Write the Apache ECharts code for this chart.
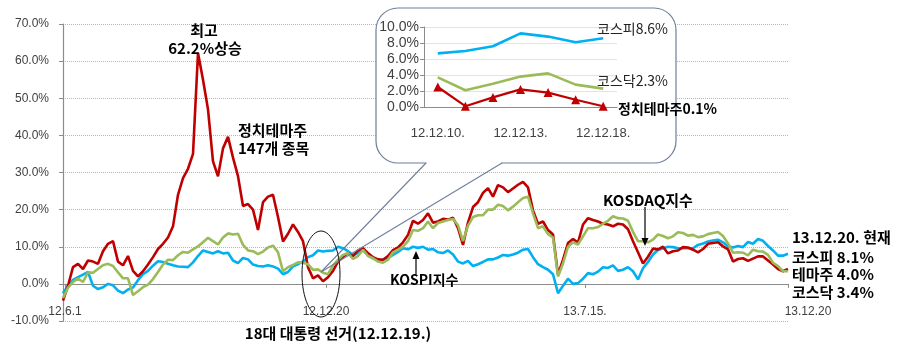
<!DOCTYPE html>
<html><head><meta charset="utf-8">
<script src="https://cdn.jsdelivr.net/npm/echarts@6/dist/echarts.min.js"></script>
<style>html,body{margin:0;padding:0;background:#fff}#c{width:903px;height:355px}</style>
</head><body><div id="c"></div>
<script>
// ---- data (percent change since 12.6.1) ----
const themeStocks = [-4.5,-0.5,4.5,5.4,4.0,6.3,6.0,5.4,8.8,10.8,11.5,6.0,5.0,7.5,3.5,2.0,3.4,5.2,7.2,9.4,
 10.8,12.5,15.5,24,28.5,31,35,62.2,55,47,33,29,36.5,39.6,34,29,21,21.5,20,14.5,
 22,23.5,24,18,11.4,13.5,16,14,11.5,4.5,1.5,2.3,0.7,1.8,3.5,6,7.3,8.3,7.5,9,
 9.6,8.3,7.2,6.6,6.5,7.5,9.1,9.8,11.2,13.2,17,16.2,17.2,19,16.5,16.8,17.5,17.3,17.8,15,
 10.5,16.5,20.7,22,24.5,25.8,23.5,26.6,26,24.7,25.7,26.7,27.5,26,19.8,16.2,16.8,14.5,13.3,2.5,
 6.5,11,12.1,11.1,16,17.7,17.2,16.8,16.2,16,15.5,16.2,16,14.7,11.5,8.5,5.5,7.3,9.5,9.3,
 10,8.2,8.8,9,9.9,9.8,9.2,8.5,9.4,10.8,11,11.2,10.1,9.3,6,6.7,6.9,6.2,6.8,7.4,
 7.4,6.3,5.2,4.0,3.4,4.0];
const kosdaq = [-3.8,-1.0,0.5,1.4,0.5,3.1,3.0,4.0,5.0,5.4,4.8,3.1,1.5,1.5,-3.0,-2.0,-0.9,-0.2,1.3,3.2,
 5.2,6.5,6.4,7.7,8.6,8.4,9.3,10.1,11.2,12.4,11.5,10.6,12.5,13.6,13.3,13.5,10.5,9,8.8,8.0,
 8.7,9.8,10.3,8.5,3.4,4.5,5.1,5.8,5.7,5.3,3.8,3.9,3.0,2.6,5.0,6.5,7.8,8.3,6.7,7.5,
 9.2,7.5,6.9,6.0,5.7,6.5,8.5,9.2,10,11.5,14.5,14.3,15,16.8,15,16.4,16.8,17.2,17.5,15.8,
 11.5,15.7,18,18.5,18.5,20,20,21.3,21,19.8,20.8,22,23.1,23.5,19,15,15.5,13.4,12.5,2.0,
 5.5,10,11.2,10.6,12.8,15,15,15.3,16.2,17,18.2,17.7,17.6,17,14,11.5,11.5,11.2,11.9,13.3,
 12.9,12.3,12.8,13.9,13.7,13,13.2,12.6,12.8,13.4,13.7,14,12.9,10.9,8.4,8.5,8.4,7.7,9.2,8.8,
 8.7,7.8,5.7,4.8,3.4,3.4];
const kospi = [-2.5,-0.5,1.1,1.8,2.5,3.2,-0.5,-1.4,-0.9,0,-0.4,-1.8,-2.5,-1.5,-1.0,1.0,2.6,3.5,4.9,6.1,
 5.9,5.4,5.0,4.7,4.6,4.5,5.8,7.5,9.0,8.6,8.2,8.8,8.2,8.4,6.3,5.6,7.0,6.6,5.2,4.8,
 4.7,5.0,4.7,4.1,2.6,3.2,4.7,5.3,6.0,7.2,7.7,9.0,8.7,8.9,9.0,10.0,9.6,8.8,7.8,8.3,
 9.1,7.7,6.9,6.4,6.5,7.0,7.8,8.6,9.6,9.3,10,9.7,10,9.2,9.4,8.5,8.3,9.0,7.9,6.0,
 5.5,6.2,4.8,5.3,5.9,6.6,6.6,7.1,7.8,7.6,7.9,8.4,9.2,9.4,7.2,5.3,4.5,3.8,2.6,-2.5,
 -0.5,1.4,0.0,0.2,1.4,2.9,2.6,3.3,4.5,4.3,5.0,3.5,3.8,4.5,3.4,1.2,4.2,5.9,7.9,9.1,
 9.6,10,9.9,9.6,9.6,9.6,9.6,10.5,10.9,11.4,11.7,11.9,11.2,10.1,9.8,10.2,9.9,11.3,10.8,12.1,
 11.6,10.2,9.0,7.6,7.6,8.1];
const xTickLabels = ['12.6.1', '12.12.20', '13.7.15.', '13.12.20'];
const xTickPos = [0.4, 52.6, 104.4, 145];

// inset (12.12.10 ~ 12.12.18)
const insetDates = ['12.12.10.', '12.12.11.', '12.12.12.', '12.12.13.', '12.12.14.', '12.12.17.', '12.12.18.'];
const insetKospi = [6.7, 7.0, 7.6, 9.2, 8.8, 8.1, 8.6];
const insetKosdaq = [3.7, 2.1, 2.9, 3.8, 4.2, 2.8, 2.3];
const insetTheme = [2.5, 0.1, 1.2, 2.2, 1.8, 0.9, 0.1];

// ---- chart ----
const RED = '#C00000', GREEN = '#9BBB59', BLUE = '#00B0F0';
const NUMFONT = "'Liberation Sans', 'Noto Sans CJK KR', sans-serif";
const KFONT = "'Noto Sans CJK KR', 'Liberation Sans', sans-serif";
const pairs = a => a.map((v, i) => [i, v]);

function txt(text, x, y, opt) {
  opt = opt || {};
  return {
    type: 'text', x: x, y: y, z: 30, silent: true,
    style: {
      text: text, fill: opt.color || '#000',
      fontSize: opt.size || 15, fontWeight: opt.weight || 'bold',
      fontFamily: opt.family || KFONT,
      align: opt.align || 'left', textAlign: opt.align || 'left',
      verticalAlign: 'middle', textVerticalAlign: 'middle'
    }
  };
}
function arrow(x, y1, y2) {
  const dir = y2 > y1 ? 1 : -1;
  return [
    { type: 'line', z: 30, silent: true, shape: { x1: x, y1: y1, x2: x, y2: y2 - dir * 5 }, style: { stroke: '#000', lineWidth: 1.2 } },
    { type: 'polygon', z: 30, silent: true, shape: { points: [[x, y2], [x - 3.5, y2 - dir * 8], [x + 3.5, y2 - dir * 8]] }, style: { fill: '#000' } }
  ];
}

const chart = echarts.init(document.getElementById('c'));
chart.setOption({
  animation: false,
  backgroundColor: '#fff',
  grid: [
    { left: 63, right: 115, top: 24, bottom: 34, outerBoundsMode: 'none' },
    { left: 424, top: 27, width: 193, height: 80, outerBoundsMode: 'none' }
  ],
  xAxis: [
    {
      type: 'value', gridIndex: 0, min: 0, max: themeStocks.length - 1,
      axisLine: { onZero: true, lineStyle: { color: '#8c8c8c', width: 1.2 } },
      axisTick: { show: true, customValues: xTickPos, length: 4, lineStyle: { color: '#8c8c8c' } },
      axisLabel: {
        customValues: xTickPos, margin: -15, fontSize: 12, color: '#404040', fontFamily: NUMFONT,
        formatter: function (v) {
          const k = xTickPos.indexOf(v);
          if (k < 0) return '';
          return k === xTickPos.length - 1 ? '{e|' + xTickLabels[k] + '}' : xTickLabels[k];
        },
        rich: { e: { padding: [0, 0, 0, 40], fontSize: 12, color: '#404040', fontFamily: NUMFONT } }
      },
      splitLine: { show: false }
    },
    {
      type: 'category', gridIndex: 1, data: insetDates, boundaryGap: true, z: 10,
      axisLine: { lineStyle: { color: '#8c8c8c' } },
      axisTick: { interval: 2, length: 4, lineStyle: { color: '#8c8c8c' } },
      axisLabel: { interval: 2, margin: 20, fontSize: 13, color: '#404040', fontFamily: NUMFONT },
      splitLine: { show: false }
    }
  ],
  yAxis: [
    {
      type: 'value', gridIndex: 0, min: -10, max: 70, interval: 10,
      axisLine: { show: true, lineStyle: { color: '#8c8c8c', width: 1.2 } },
      axisTick: { show: true, length: 4, lineStyle: { color: '#8c8c8c' } },
      axisLabel: { margin: 14, fontSize: 12, color: '#404040', fontFamily: NUMFONT, formatter: v => v.toFixed(1) + '%' },
      splitLine: { lineStyle: { type: 'dotted', color: '#a9b8cf', width: 1 } }
    },
    {
      type: 'value', gridIndex: 1, min: 0, max: 10, interval: 2, z: 10,
      axisLine: { show: true, lineStyle: { color: '#8c8c8c' } },
      axisTick: { show: true, length: 4, lineStyle: { color: '#8c8c8c' } },
      axisLabel: { margin: 5, fontSize: 14, color: '#404040', fontFamily: NUMFONT, formatter: v => v.toFixed(1) + '%' },
      splitLine: { lineStyle: { color: '#dfe4ea', width: 1 } }
    }
  ],
  series: [
    { name: 'KOSPI', type: 'line', xAxisIndex: 0, yAxisIndex: 0, data: pairs(kospi), showSymbol: false, symbol: 'none', lineStyle: { color: BLUE, width: 2.6 }, itemStyle: { color: BLUE }, z: 2 },
    { name: '정치테마주', type: 'line', xAxisIndex: 0, yAxisIndex: 0, data: pairs(themeStocks), showSymbol: false, symbol: 'none', lineStyle: { color: RED, width: 2.6 }, itemStyle: { color: RED }, z: 3 },
    { name: 'KOSDAQ', type: 'line', xAxisIndex: 0, yAxisIndex: 0, data: pairs(kosdaq), showSymbol: false, symbol: 'none', lineStyle: { color: GREEN, width: 2.6 }, itemStyle: { color: GREEN }, z: 4 },
    { name: '코스피', type: 'line', xAxisIndex: 1, yAxisIndex: 1, data: insetKospi, symbol: 'none', lineStyle: { color: BLUE, width: 2.6 }, z: 12 },
    { name: '코스닥', type: 'line', xAxisIndex: 1, yAxisIndex: 1, data: insetKosdaq, symbol: 'none', lineStyle: { color: GREEN, width: 2.6 }, z: 12 },
    { name: '정치테마주(인셋)', type: 'line', xAxisIndex: 1, yAxisIndex: 1, data: insetTheme, symbol: 'triangle', symbolSize: 9, lineStyle: { color: RED, width: 2.2 }, itemStyle: { color: RED }, z: 13 }
  ],
  graphic: {
    elements: [
      // callout box
      { type: 'rect', z: 5, silent: true, shape: { x: 376, y: 8, width: 300, height: 155, r: 22 }, style: { fill: '#fff', stroke: '#6f7f9c', lineWidth: 1.2 } },
      { type: 'line', z: 6, silent: true, shape: { x1: 426.5, y1: 163, x2: 501, y2: 163 }, style: { stroke: '#fff', lineWidth: 3 } },
      { type: 'line', z: 6, silent: true, shape: { x1: 426, y1: 163, x2: 321, y2: 272 }, style: { stroke: '#6f7f9c', lineWidth: 1.1 } },
      { type: 'line', z: 6, silent: true, shape: { x1: 502, y1: 163, x2: 321, y2: 272 }, style: { stroke: '#6f7f9c', lineWidth: 1.1 } },
      // ellipse around election day
      { type: 'ellipse', z: 30, silent: true, shape: { cx: 321, cy: 274, rx: 19, ry: 43 }, style: { fill: null, stroke: '#111', lineWidth: 1 } },
      // annotations
      txt('최고', 204, 30, { align: 'center' }),
      txt('62.2%상승', 205, 48, { align: 'center' }),
      txt('정치테마주', 238, 130),
      txt('147개 종목', 238, 148),
      txt('18대 대통령 선거(12.12.19.)', 338, 333, { align: 'center' }),
      txt('KOSPI지수', 390, 280, { size: 14 }),
      txt('KOSDAQ지수', 603, 200),
      txt('13.12.20. 현재', 792, 237),
      txt('코스피 8.1%', 792, 257),
      txt('테마주 4.0%', 792, 274),
      txt('코스닥 3.4%', 792, 292),
      txt('코스피8.6%', 597, 29, { weight: 'normal', size: 14, color: '#222' }),
      txt('코스닥2.3%', 597, 81, { weight: 'normal', size: 14, color: '#222' }),
      txt('정치테마주0.1%', 618, 109, { size: 14 })
    ].concat(arrow(416, 274, 251), arrow(645, 207, 246))
  }
});
</script>
</body></html>
